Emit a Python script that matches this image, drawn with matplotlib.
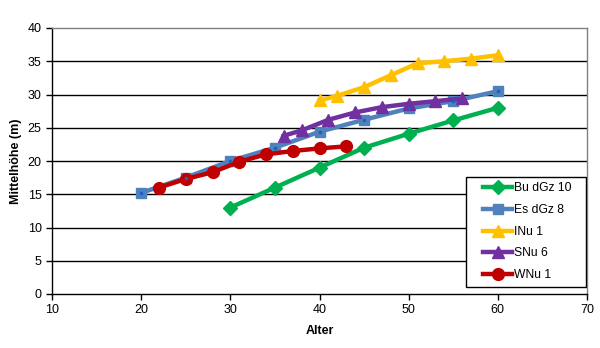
import matplotlib.pyplot as plt
import numpy as np
from matplotlib.patches import Rectangle
from matplotlib.transforms import IdentityTransform

plt.rcParams['font.family'] = ['Liberation Sans', 'DejaVu Sans']

# Mittelhöhe je Bestand über dem Alter
bu_alter = [30, 35, 40, 45, 50, 55, 60]
bu_hoehe = [13.0, 16.0, 19.0, 22.0, 24.1, 26.1, 28.0]

es_alter = [20, 25, 30, 35, 40, 45, 50, 55, 60]
es_hoehe = [15.2, 17.5, 20.0, 22.0, 24.4, 26.2, 27.9, 29.0, 30.5]

inu_alter = [40, 42, 45, 48, 51, 54, 57, 60]
inu_hoehe = [29.1, 29.8, 31.1, 32.9, 34.7, 35.0, 35.4, 35.9]

snu_alter = [36, 38, 41, 44, 47, 50, 53, 56]
snu_hoehe = [23.8, 24.6, 26.2, 27.3, 28.1, 28.6, 29.0, 29.4]

wnu_alter = [22, 25, 28, 31, 34, 37, 40, 43]
wnu_hoehe = [16.0, 17.3, 18.3, 19.9, 21.0, 21.5, 21.9, 22.2]

fig = plt.figure(figsize=(6, 3.48), dpi=100)
ax = fig.add_axes([52/600, 1-294/348, 535/600, 266/348])

lw = 3.2
ms = 8.5
ax.plot(bu_alter, bu_hoehe, '-D', color='#00B050', lw=lw, ms=ms*0.85, label='Bu dGz 10', zorder=3)
ax.plot(es_alter, es_hoehe, '-s', color='#4F81BD', lw=lw, ms=ms*0.85, label='Es dGz 8', zorder=3)
ax.plot(es_alter, es_hoehe, 's', color='#1F5FBF', ms=2, zorder=3.1)
ax.plot(inu_alter, inu_hoehe, '-^', color='#FFC000', lw=lw, ms=ms, label='INu 1', zorder=3)
ax.plot(snu_alter, snu_hoehe, '-^', color='#7030A0', lw=lw, ms=ms, label='SNu 6', zorder=3)
ax.plot(wnu_alter, wnu_hoehe, '-o', color='#C00000', lw=lw, ms=ms, label='WNu 1', zorder=3)

ax.set_xlim(10, 70)
ax.set_ylim(0, 40)
ax.set_xticks(np.arange(10, 71, 10))
ax.set_yticks(np.arange(0, 41, 5))
for y in range(5, 40, 5):
    ax.axhline(y, color='black', lw=1, zorder=1)

ax.spines['top'].set_color('#808080')
ax.spines['right'].set_color('#808080')
ax.spines['left'].set_color('black')
ax.spines['bottom'].set_color('black')
for s in ax.spines.values():
    s.set_linewidth(1)
ax.tick_params(direction='out', length=4, width=1, labelsize=9, colors='black')

ax.set_xlabel('Alter', fontsize=9, fontweight='bold', labelpad=6)
ax.set_ylabel('Mittelhöhe (m)', fontsize=9, fontweight='bold', labelpad=4)

# legend without frame, box drawn by hand with wider side padding
leg = ax.legend(loc='lower right', bbox_to_anchor=(0.978, 0.035), fontsize=8.7,
                frameon=False, handlelength=2.4, labelspacing=0.8,
                borderpad=0.3, borderaxespad=0, handletextpad=0.15)
leg.set_zorder(6)
fig.canvas.draw()
bb = leg.get_window_extent()
ax.add_artist(Rectangle((bb.x0 - 14, bb.y0 - 2), bb.width + 25, bb.height + 4,
                        transform=IdentityTransform(), facecolor='white',
                        edgecolor='black', lw=1, zorder=5))

fig.savefig('out.png', dpi=100)
